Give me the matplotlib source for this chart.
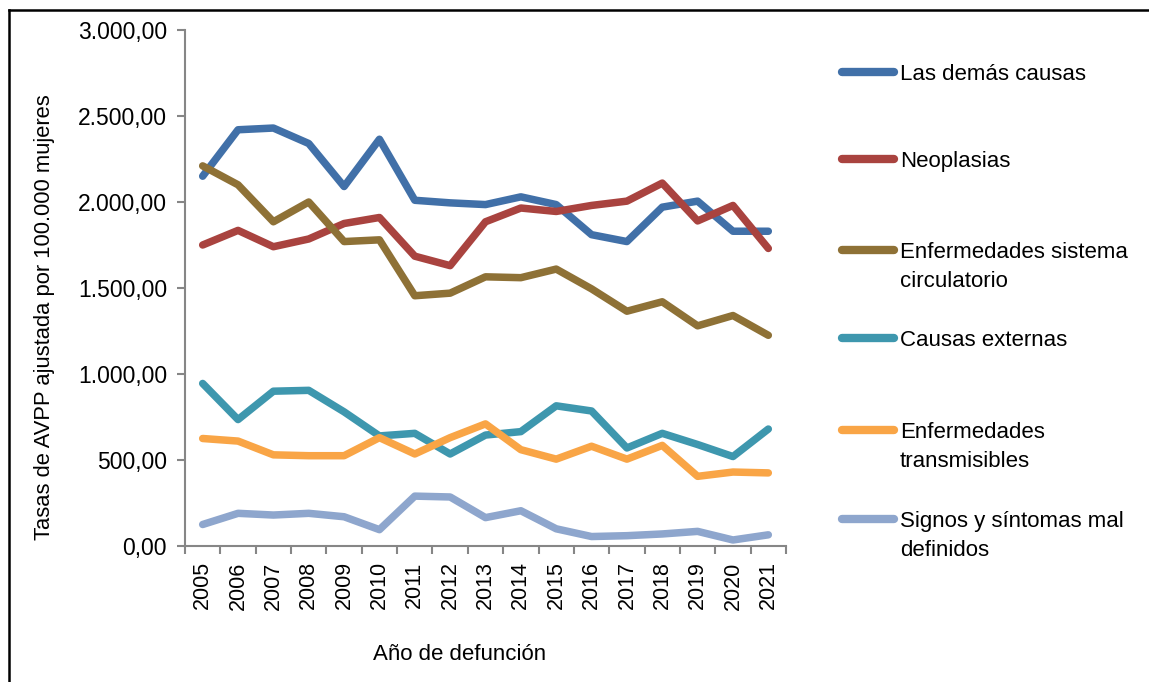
import numpy as np
import matplotlib
matplotlib.use("Agg")
import matplotlib.pyplot as plt
from matplotlib.ticker import FuncFormatter, FixedLocator, NullFormatter
from matplotlib.lines import Line2D

years = list(range(2005, 2022))

demas_causas = [2150, 2420, 2430, 2340, 2090, 2365, 2010, 1995, 1985, 2030, 1985, 1810, 1770, 1970, 2005, 1830, 1830]
neoplasias = [1750, 1835, 1740, 1785, 1875, 1910, 1685, 1630, 1885, 1965, 1945, 1980, 2005, 2110, 1890, 1980, 1730]
circulatorio = [2210, 2100, 1885, 2000, 1770, 1780, 1455, 1470, 1565, 1560, 1610, 1495, 1365, 1420, 1280, 1340, 1225]
externas = [945, 735, 900, 905, 780, 640, 655, 535, 645, 665, 815, 785, 570, 655, 590, 520, 680]
transmisibles = [625, 610, 530, 525, 525, 630, 535, 630, 710, 560, 505, 580, 505, 585, 405, 430, 425]
mal_definidos = [125, 190, 180, 190, 170, 95, 290, 285, 165, 205, 100, 55, 60, 70, 85, 35, 65]

labels = ["Las demás causas", "Neoplasias", "Enfermedades sistema\ncirculatorio",
          "Causas externas", "Enfermedades\ntransmisibles", "Signos y síntomas mal\ndefinidos"]
series = [demas_causas, neoplasias, circulatorio, externas, transmisibles, mal_definidos]
colors = ["#4170A8", "#A9433F", "#8E7136", "#3E97AE", "#F9A546", "#8EA6CD"]

plt.rcParams['font.family'] = ['Liberation Sans', 'DejaVu Sans']

W, H = 1149, 682
fig = plt.figure(figsize=(W / 100, H / 100), dpi=100)
ax = fig.add_axes([185 / W, 1 - 546 / H, (786 - 185) / W, (546 - 30) / H])

x = np.arange(len(years))
for vals, c in zip(series, colors):
    ax.plot(x, vals, color=c, lw=5.4, solid_capstyle='round', solid_joinstyle='round')

ax.set_xlim(-0.5, len(years) - 0.5)
ax.set_ylim(0, 3000)
ax.set_yticks(np.arange(0, 3001, 500))

def es_fmt(v, pos):
    s = f"{v:,.2f}"
    return s.replace(',', 'X').replace('.', ',').replace('X', '.')

ax.yaxis.set_major_formatter(FuncFormatter(es_fmt))
ax.set_xticks(x)
ax.set_xticklabels([str(y) for y in years], rotation=90, fontsize=15.5)
ax.xaxis.set_minor_locator(FixedLocator(np.arange(-0.5, len(years), 1)))
ax.xaxis.set_minor_formatter(NullFormatter())
ax.tick_params(axis='x', which='major', length=0, pad=11)
ax.tick_params(axis='x', which='minor', length=6, width=1.5, color='#868686')
ax.tick_params(axis='y', length=6, width=1.5, color='#868686', labelsize=16.5, pad=7)

for s in ['top', 'right']:
    ax.spines[s].set_visible(False)
for s in ['left', 'bottom']:
    ax.spines[s].set_color('#868686')
    ax.spines[s].set_linewidth(1.5)

fig.text(45 / W, 1 - 317 / H, "Tasas de AVPP ajustada por 100.000 mujeres",
         rotation=90, ha='center', va='center', fontsize=15.8)
fig.text(460 / W, 1 - 655 / H, "Año de defunción", ha='center', va='center',
         fontsize=16)

# legend drawn by hand so the line sits beside the first text line
legend_y = [72, 159, 250, 338, 430, 519]
for ly, lab, c in zip(legend_y, labels, colors):
    fig.add_artist(Line2D([842 / W, 894 / W], [1 - ly / H, 1 - ly / H], color=c, lw=6,
                          solid_capstyle='round', transform=fig.transFigure))
    for i, part in enumerate(lab.split('\n')):
        fig.text(900 / W, 1 - (ly + 29 * i) / H, part, ha='left', va='center_baseline',
                 fontsize=16)

# frame lines along the top and left edges
fig.add_artist(Line2D([8.5 / W, 1], [1 - 9.5 / H, 1 - 9.5 / H], color='black', lw=1.8,
                      transform=fig.transFigure))
fig.add_artist(Line2D([8.5 / W, 8.5 / W], [0, 1 - 9.5 / H], color='black', lw=1.8,
                      transform=fig.transFigure))

fig.savefig("out.png", dpi=100)
